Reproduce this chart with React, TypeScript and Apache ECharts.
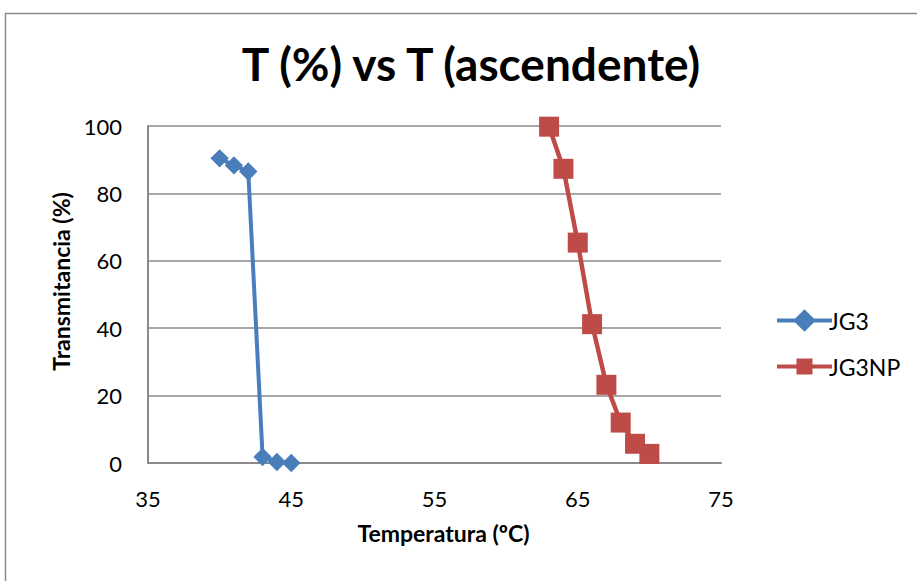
import React, { useEffect, useRef } from "react";
import * as echarts from "echarts";

const jg3X = [40, 41, 42, 43, 44, 45];
const jg3Y = [90.4, 88.3, 86.5, 1.8, 0.3, 0];
const jg3npX = [63, 64, 65, 66, 67, 68, 69, 70];
const jg3npY = [99.8, 87.3, 65.4, 41.2, 23.2, 12.0, 5.7, 2.7];
const xTicks = [35, 45, 55, 65, 75];
const yTicks = [0, 20, 40, 60, 80, 100];

const FONT = "Lato";

export default function App() {
  const ref = useRef<HTMLDivElement>(null);
  useEffect(() => {
    document.body.style.margin = "0";
    const chart = echarts.init(ref.current!, null, { renderer: "svg" });
    chart.setOption({
      animation: false,
      backgroundColor: "#ffffff",
      textStyle: { fontFamily: FONT },
      graphic: [
        {
          type: "rect",
          shape: { x: 5.5, y: 13.5, width: 1000, height: 1000 },
          style: { fill: "none", stroke: "#8a8a8a", lineWidth: 1.5 },
          silent: true,
        },
      ],
      title: {
        text: "T (%) vs T (ascendente)",
        left: 466,
        textAlign: "center",
        top: 35,
        textStyle: { fontFamily: FONT, fontSize: 46, fontWeight: "bold", color: "#000" },
      },
      legend: {
        orient: "vertical",
        left: 770,
        top: 304,
        itemWidth: 55,
        itemHeight: 20,
        itemGap: 23,
        lineStyle: { width: 4 },
        textStyle: { fontFamily: FONT, fontSize: 23, color: "#000", padding: [0, 0, 0, -8] },
        data: ["JG3", "JG3NP"],
      },
      grid: { left: 148, top: 126, right: 196, bottom: 118, containLabel: false },
      xAxis: {
        type: "value",
        min: 35,
        max: 75,
        interval: 10,
        name: "Temperatura (ºC)",
        nameLocation: "middle",
        nameGap: 58,
        nameTextStyle: {
          fontFamily: FONT,
          fontSize: 23,
          fontWeight: "bold",
          color: "#000",
          padding: [0, 0, 0, 18],
        },
        axisLine: { show: true, lineStyle: { color: "#8a8a8a", width: 2 } },
        axisTick: { show: false },
        splitLine: { show: false },
        axisLabel: {
          fontFamily: FONT,
          fontSize: 22,
          color: "#000",
          margin: 24,
          formatter: (v: number) => (xTicks.includes(v) ? String(v) : ""),
        },
      },
      yAxis: {
        type: "value",
        min: 0,
        max: 100,
        interval: 20,
        name: "Transmitancia (%)",
        nameLocation: "middle",
        nameGap: 65,
        nameTextStyle: {
          fontFamily: FONT,
          fontSize: 23,
          fontWeight: "bold",
          color: "#000",
          padding: [0, 0, 0, 26],
        },
        axisLine: { show: true, lineStyle: { color: "#8a8a8a", width: 2 } },
        axisTick: { show: false },
        splitLine: { show: true, lineStyle: { color: "#8a8a8a", width: 1.5 } },
        axisLabel: {
          fontFamily: FONT,
          fontSize: 22,
          color: "#000",
          margin: 26,
          formatter: (v: number) => (yTicks.includes(v) ? String(v) : ""),
        },
      },
      series: [
        {
          name: "JG3",
          type: "line",
          data: jg3X.map((x, i) => [x, jg3Y[i]]),
          symbol: "rect",
          symbolSize: 13,
          symbolRotate: 45,
          lineStyle: { color: "#4A7EBB", width: 4 },
          itemStyle: { color: "#4A7EBB" },
        },
        {
          name: "JG3NP",
          type: "line",
          data: jg3npX.map((x, i) => [x, jg3npY[i]]),
          symbol: "rect",
          symbolSize: 20,
          lineStyle: { color: "#BE4B48", width: 4.5 },
          itemStyle: { color: "#BE4B48" },
        },
      ],
    });
    return () => chart.dispose();
  }, []);
  return <div ref={ref} style={{ width: 917, height: 581 }} />;
}
